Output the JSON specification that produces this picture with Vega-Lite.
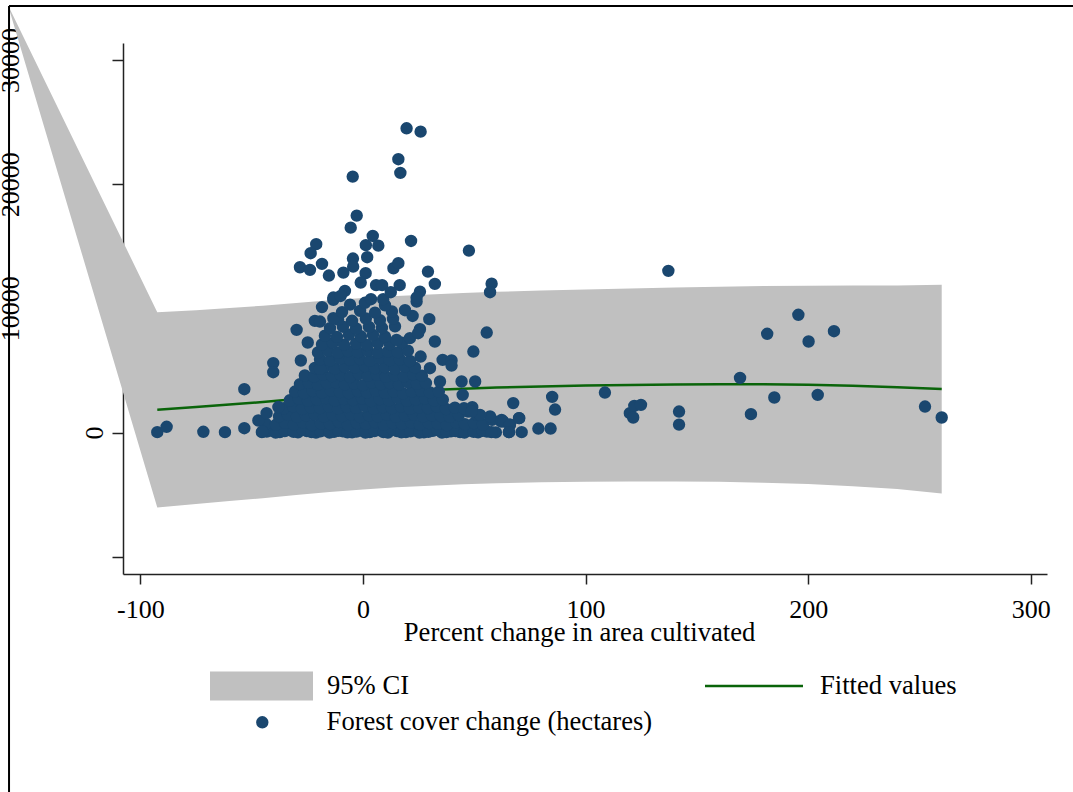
{
  "$schema": "https://vega.github.io/schema/vega-lite/v6.json",
  "width": 924,
  "height": 531,
  "autosize": "none",
  "padding": {"left": 123, "top": 43, "right": 26, "bottom": 218},
  "background": "white",
  "config": {
    "view": {"stroke": null},
    "font": "Liberation Serif",
    "legend": {"title": null, "orient": "none", "padding": 0, "labelFont": "Liberation Serif", "labelFontSize": 26.6, "labelColor": "black", "labelLimit": 600, "symbolOpacity": 1}
  },
  "datasets": {
    "fit": [
      {"x": -159.5, "fit": null, "lo": 34436, "hi": 34436},
      {"x": -92.4, "fit": 1830, "lo": -6040, "hi": 9690},
      {"x": -75, "fit": 2050, "lo": -5750, "hi": 9850},
      {"x": -60, "fit": 2250, "lo": -5520, "hi": 10020},
      {"x": -45, "fit": 2460, "lo": -5290, "hi": 10210},
      {"x": -30, "fit": 2700, "lo": -5030, "hi": 10430},
      {"x": -15, "fit": 2930, "lo": -4790, "hi": 10650},
      {"x": 0, "fit": 3130, "lo": -4580, "hi": 10840},
      {"x": 15, "fit": 3290, "lo": -4410, "hi": 10990},
      {"x": 30, "fit": 3420, "lo": -4280, "hi": 11120},
      {"x": 45, "fit": 3530, "lo": -4170, "hi": 11230},
      {"x": 60, "fit": 3620, "lo": -4090, "hi": 11330},
      {"x": 80, "fit": 3710, "lo": -4010, "hi": 11430},
      {"x": 100, "fit": 3780, "lo": -3960, "hi": 11520},
      {"x": 120, "fit": 3830, "lo": -3940, "hi": 11600},
      {"x": 140, "fit": 3870, "lo": -3940, "hi": 11680},
      {"x": 160, "fit": 3890, "lo": -3970, "hi": 11750},
      {"x": 180, "fit": 3880, "lo": -4040, "hi": 11800},
      {"x": 200, "fit": 3840, "lo": -4150, "hi": 11830},
      {"x": 220, "fit": 3760, "lo": -4320, "hi": 11840},
      {"x": 240, "fit": 3650, "lo": -4550, "hi": 11850},
      {"x": 260, "fit": 3500, "lo": -4900, "hi": 11900}
    ],
    "pts": [
      {"x": -45.4, "y": 30}, {"x": -41.3, "y": 150}, {"x": -37.3, "y": 40}, {"x": -33.2, "y": 210}, {"x": -29.2, "y": 10}, {"x": -25.2, "y": 120}, {"x": -21.1, "y": 0}, {"x": -17.1, "y": 180}, {"x": -13.0, "y": 50}, {"x": -9.0, "y": 90}, {"x": -4.9, "y": 10}, {"x": -0.9, "y": 160}, {"x": 3.1, "y": 30}, {"x": 7.2, "y": 200}, {"x": 11.2, "y": 0}, {"x": 15.3, "y": 110}, {"x": 19.3, "y": 40}, {"x": 23.4, "y": 170}, {"x": 27.4, "y": 20}, {"x": 31.4, "y": 130}, {"x": 35.5, "y": 0}, {"x": 39.5, "y": 90}, {"x": 43.6, "y": 30}, {"x": 47.6, "y": 150}, {"x": 51.7, "y": 20}, {"x": 55.7, "y": 80}, {"x": 59.7, "y": 10}, {"x": 65.6, "y": 30}, {"x": 71.3, "y": 30}, {"x": 78.8, "y": 320}, {"x": 84.3, "y": 320},
      {"x": -43.2, "y": 80}, {"x": -39.2, "y": 0}, {"x": -35.1, "y": 120}, {"x": -31.2, "y": 60}, {"x": -27.2, "y": 230}, {"x": -23.1, "y": 30}, {"x": -19.1, "y": 100}, {"x": -15.0, "y": 0}, {"x": -11.0, "y": 140}, {"x": -7.0, "y": 20}, {"x": -2.9, "y": 70}, {"x": 1.1, "y": 0}, {"x": 5.2, "y": 120}, {"x": 9.2, "y": 40}, {"x": 13.3, "y": 260}, {"x": 17.3, "y": 10}, {"x": 21.4, "y": 90}, {"x": 25.4, "y": 0}, {"x": 29.4, "y": 60}, {"x": 33.5, "y": 200}, {"x": 37.5, "y": 40}, {"x": 41.6, "y": 110}, {"x": 45.6, "y": 0}, {"x": 49.7, "y": 60}, {"x": 53.7, "y": 140}, {"x": 57.7, "y": 30},
      {"x": -43.6, "y": 700}, {"x": -39.1, "y": 620}, {"x": -35.0, "y": 780}, {"x": -31.0, "y": 650}, {"x": -27.0, "y": 820}, {"x": -22.9, "y": 600}, {"x": -18.9, "y": 740}, {"x": -14.8, "y": 680}, {"x": -10.8, "y": 850}, {"x": -6.7, "y": 610}, {"x": -2.7, "y": 760}, {"x": 1.3, "y": 700}, {"x": 5.4, "y": 830}, {"x": 9.4, "y": 620}, {"x": 13.5, "y": 770}, {"x": 17.5, "y": 690}, {"x": 21.6, "y": 810}, {"x": 25.6, "y": 640}, {"x": 29.6, "y": 750}, {"x": 33.7, "y": 700}, {"x": 37.7, "y": 600}, {"x": 41.8, "y": 820}, {"x": 45.8, "y": 680}, {"x": 49.9, "y": 750}, {"x": 53.9, "y": 620}, {"x": 58.0, "y": 1020}, {"x": 62.0, "y": 890}, {"x": 66.0, "y": 620},
      {"x": -37.7, "y": 1300}, {"x": -33.7, "y": 1420}, {"x": -29.6, "y": 1260}, {"x": -25.6, "y": 1380}, {"x": -21.6, "y": 1450}, {"x": -17.5, "y": 1280}, {"x": -13.5, "y": 1400}, {"x": -9.4, "y": 1330}, {"x": -5.4, "y": 1470}, {"x": -1.3, "y": 1250}, {"x": 2.7, "y": 1390}, {"x": 6.7, "y": 1310}, {"x": 10.8, "y": 1440}, {"x": 14.8, "y": 1270}, {"x": 18.9, "y": 1360}, {"x": 22.9, "y": 1420}, {"x": 27.0, "y": 1290}, {"x": 31.0, "y": 1380}, {"x": 35.0, "y": 1330}, {"x": 39.1, "y": 1260}, {"x": 43.1, "y": 1410}, {"x": 47.2, "y": 1690}, {"x": 51.2, "y": 1420}, {"x": 57.1, "y": 1300}, {"x": 70.1, "y": 1160}, {"x": -47.0, "y": 970}, {"x": -43.3, "y": 1560},
      {"x": -35.5, "y": 1950}, {"x": -31.4, "y": 2080}, {"x": -27.4, "y": 1900}, {"x": -23.4, "y": 2030}, {"x": -19.3, "y": 1980}, {"x": -15.3, "y": 2100}, {"x": -11.2, "y": 1920}, {"x": -7.2, "y": 2060}, {"x": -3.1, "y": 1990}, {"x": 0.9, "y": 2120}, {"x": 4.9, "y": 1930}, {"x": 9.0, "y": 2040}, {"x": 13.0, "y": 1970}, {"x": 17.1, "y": 2090}, {"x": 21.1, "y": 1910}, {"x": 25.2, "y": 2020}, {"x": 29.2, "y": 1960}, {"x": 33.2, "y": 2080}, {"x": 37.3, "y": 1900}, {"x": 41.3, "y": 2000}, {"x": 45.4, "y": 1950}, {"x": 49.1, "y": 2040}, {"x": -38.0, "y": 2050},
      {"x": -32.8, "y": 2600}, {"x": -28.8, "y": 2720}, {"x": -24.7, "y": 2550}, {"x": -20.7, "y": 2680}, {"x": -16.6, "y": 2780}, {"x": -12.6, "y": 2580}, {"x": -8.5, "y": 2700}, {"x": -4.5, "y": 2620}, {"x": -0.4, "y": 2760}, {"x": 3.6, "y": 2540}, {"x": 7.6, "y": 2690}, {"x": 11.7, "y": 2600}, {"x": 15.7, "y": 2770}, {"x": 19.8, "y": 2560}, {"x": 23.8, "y": 2660}, {"x": 27.9, "y": 2740}, {"x": 31.9, "y": 2590}, {"x": 35.9, "y": 2650}, {"x": 67.5, "y": 2370},
      {"x": -30.5, "y": 3300}, {"x": -26.5, "y": 3180}, {"x": -22.5, "y": 3350}, {"x": -18.4, "y": 3220}, {"x": -14.4, "y": 3400}, {"x": -10.3, "y": 3260}, {"x": -6.3, "y": 3170}, {"x": -2.2, "y": 3330}, {"x": 1.8, "y": 3240}, {"x": 5.8, "y": 3380}, {"x": 9.9, "y": 3200}, {"x": 13.9, "y": 3310}, {"x": 18.0, "y": 3160}, {"x": 22.0, "y": 3290}, {"x": 26.1, "y": 3360}, {"x": 30.1, "y": 3230}, {"x": 34.1, "y": 3300}, {"x": 44.8, "y": 3030}, {"x": 85.0, "y": 2870}, {"x": 86.3, "y": 1850},
      {"x": -28.3, "y": 3900}, {"x": -24.3, "y": 4010}, {"x": -20.2, "y": 3850}, {"x": -16.2, "y": 3980}, {"x": -12.1, "y": 4050}, {"x": -8.1, "y": 3870}, {"x": -4.0, "y": 3960}, {"x": 0.0, "y": 3820}, {"x": 4.0, "y": 4030}, {"x": 8.1, "y": 3900}, {"x": 12.1, "y": 3990}, {"x": 16.2, "y": 3860}, {"x": 20.2, "y": 4040}, {"x": 24.3, "y": 3920}, {"x": 28.3, "y": 3980}, {"x": 34.6, "y": 4110}, {"x": 44.3, "y": 4110}, {"x": 50.4, "y": 4110},
      {"x": -26.1, "y": 4600}, {"x": -22.0, "y": 4500}, {"x": -18.0, "y": 4680}, {"x": -13.9, "y": 4540}, {"x": -9.9, "y": 4620}, {"x": -5.8, "y": 4470}, {"x": -1.8, "y": 4700}, {"x": 2.2, "y": 4560}, {"x": 6.3, "y": 4650}, {"x": 10.3, "y": 4490}, {"x": 14.4, "y": 4610}, {"x": 18.4, "y": 4530}, {"x": 22.5, "y": 4690}, {"x": 26.5, "y": 4580},
      {"x": -21.6, "y": 5200}, {"x": -17.1, "y": 5300}, {"x": -12.6, "y": 5150}, {"x": -8.1, "y": 5280}, {"x": -3.6, "y": 5220}, {"x": 0.9, "y": 5350}, {"x": 5.4, "y": 5180}, {"x": 9.9, "y": 5260}, {"x": 14.4, "y": 5120}, {"x": 18.9, "y": 5300}, {"x": 23.4, "y": 5230}, {"x": 30.1, "y": 5180}, {"x": 35.8, "y": 5850}, {"x": 39.8, "y": 5800}, {"x": 39.8, "y": 5390}, {"x": 25.9, "y": 6120}, {"x": -19.3, "y": 5130}, {"x": -27.9, "y": 5800}, {"x": -40.3, "y": 5590}, {"x": -40.3, "y": 4860},
      {"x": -19.3, "y": 5900}, {"x": -14.8, "y": 5800}, {"x": -10.3, "y": 5960}, {"x": -5.8, "y": 5850}, {"x": -1.3, "y": 5920}, {"x": 3.1, "y": 5780}, {"x": 7.6, "y": 5990}, {"x": 12.1, "y": 5830}, {"x": 16.6, "y": 5900}, {"x": 21.1, "y": 5760},
      {"x": -20.2, "y": 6450}, {"x": -15.7, "y": 6580}, {"x": -11.2, "y": 6420}, {"x": -6.7, "y": 6550}, {"x": -2.2, "y": 6480}, {"x": 2.2, "y": 6600}, {"x": 6.7, "y": 6430}, {"x": 11.2, "y": 6520}, {"x": 15.7, "y": 6470}, {"x": 20.2, "y": 6590}, {"x": 49.6, "y": 6520},
      {"x": -18.4, "y": 7100}, {"x": -13.5, "y": 7220}, {"x": -8.5, "y": 7080}, {"x": -3.1, "y": 7180}, {"x": 1.8, "y": 7050}, {"x": 6.7, "y": 7200}, {"x": 12.1, "y": 7120}, {"x": 17.5, "y": 7240}, {"x": -24.8, "y": 7250}, {"x": 15.1, "y": 7460}, {"x": 21.1, "y": 7600}, {"x": 32.3, "y": 7330},
      {"x": -17.1, "y": 7800}, {"x": -11.7, "y": 7700}, {"x": -6.3, "y": 7880}, {"x": -0.9, "y": 7750}, {"x": 4.5, "y": 7850}, {"x": 9.9, "y": 7720}, {"x": 25.6, "y": 8320}, {"x": 24.8, "y": 8000}, {"x": 55.6, "y": 8050}, {"x": -29.8, "y": 8270},
      {"x": -14.8, "y": 8400}, {"x": -9.0, "y": 8520}, {"x": -3.1, "y": 8380}, {"x": 2.7, "y": 8500}, {"x": 8.5, "y": 8420}, {"x": 14.4, "y": 8550},
      {"x": -21.6, "y": 8990}, {"x": -19.3, "y": 8940}, {"x": -11.2, "y": 9100}, {"x": -4.9, "y": 9000}, {"x": 1.3, "y": 9180}, {"x": 7.6, "y": 9050}, {"x": 13.5, "y": 9150}, {"x": 22.3, "y": 9390}, {"x": 29.8, "y": 9130}, {"x": -13.3, "y": 9210},
      {"x": -9.4, "y": 9700}, {"x": -1.3, "y": 9800}, {"x": 5.4, "y": 9650}, {"x": 13.0, "y": 9750}, {"x": 18.9, "y": 9850},
      {"x": -18.4, "y": 10100}, {"x": -13.3, "y": 10680}, {"x": -5.8, "y": 10300}, {"x": 0.9, "y": 10450}, {"x": 9.9, "y": 10250}, {"x": 24.1, "y": 10550},
      {"x": 19.6, "y": 24500}, {"x": 25.9, "y": 24230}, {"x": 15.9, "y": 22010}, {"x": 16.8, "y": 20910}, {"x": -4.6, "y": 20610}, {"x": -2.8, "y": 17470}, {"x": -5.5, "y": 16500}, {"x": 4.4, "y": 15830}, {"x": 1.3, "y": 15090}, {"x": 6.9, "y": 15050}, {"x": 21.6, "y": 15430}, {"x": -21.0, "y": 15170}, {"x": -23.5, "y": 14440}, {"x": 1.9, "y": 14120}, {"x": -18.4, "y": 13580}, {"x": -4.5, "y": 14010}, {"x": -28.3, "y": 13310}, {"x": -23.8, "y": 13100}, {"x": -15.3, "y": 12640}, {"x": -8.8, "y": 12880}, {"x": -4.4, "y": 13360}, {"x": 1.2, "y": 12830}, {"x": -1.0, "y": 12080}, {"x": 5.9, "y": 11870}, {"x": 8.6, "y": 11870}, {"x": 13.7, "y": 13230}, {"x": 15.9, "y": 13640}, {"x": 16.5, "y": 11870}, {"x": 29.2, "y": 12960}, {"x": 32.3, "y": 11970}, {"x": 25.6, "y": 11350}, {"x": 24.1, "y": 10870}, {"x": 47.6, "y": 14650}, {"x": 57.8, "y": 11990}, {"x": 57.1, "y": 11300}, {"x": -13.3, "y": 10870}, {"x": 3.6, "y": 10740}, {"x": 9.1, "y": 10740}, {"x": 137.2, "y": 13020}, {"x": -8.1, "y": 11400}, {"x": 12.5, "y": 11300}, {"x": -10.0, "y": 11000},
      {"x": -92.4, "y": 30}, {"x": -88.2, "y": 460}, {"x": -71.7, "y": 60}, {"x": -62.0, "y": 30}, {"x": -53.3, "y": 350}, {"x": -53.3, "y": 3490}, {"x": -45.2, "y": 80},
      {"x": 108.7, "y": 3220}, {"x": 119.9, "y": 1560}, {"x": 121.9, "y": 2150}, {"x": 124.9, "y": 2230}, {"x": 121.4, "y": 1210}, {"x": 142.0, "y": 1690}, {"x": 142.0, "y": 640}, {"x": 169.4, "y": 4400}, {"x": 181.6, "y": 7950}, {"x": 195.6, "y": 9480}, {"x": 200.2, "y": 7330}, {"x": 211.6, "y": 8160}, {"x": 184.8, "y": 2820}, {"x": 204.3, "y": 3030}, {"x": 174.3, "y": 1480}, {"x": 252.5, "y": 2090}, {"x": 260.0, "y": 1210},
      {"x": 62.3, "y": 1020}, {"x": 52.6, "y": 1420}, {"x": 48.8, "y": 1690}, {"x": 63.0, "y": 890}, {"x": 66.0, "y": 620}, {"x": 65.6, "y": 30}, {"x": 70.2, "y": 1160}
    ]
  },
  "encoding": {
    "x": {
      "type": "quantitative",
      "scale": {"domain": [-107.8, 307.3], "nice": false, "zero": false},
      "axis": {
        "values": [-100, 0, 100, 200, 300],
        "labelExpr": "datum.value < 0 ? '-' + abs(datum.value) : '' + datum.value",
        "title": "Percent change in area cultivated",
        "titleFont": "Liberation Serif", "titleFontSize": 26.6, "titleFontWeight": "normal", "titleColor": "black",
        "titleX": 456, "titleY": 66, "titleAlign": "center", "titleBaseline": "alphabetic",
        "labelFont": "Liberation Serif", "labelFontSize": 26, "labelColor": "black", "labelPadding": 12,
        "labelFlush": false, "labelOverlap": false,
        "tickSize": 10, "tickWidth": 1.5, "tickColor": "#222", "domainColor": "#222", "domainWidth": 1.5,
        "grid": false
      }
    },
    "y": {
      "type": "quantitative",
      "scale": {"domain": [-11393, 31370], "nice": false, "zero": false},
      "axis": {
        "values": [-10000, 0, 10000, 20000, 30000],
        "labelExpr": "datum.value < 0 ? '' : '' + datum.value",
        "title": null,
        "labelAngle": 270, "labelAlign": "center", "labelBaseline": "alphabetic",
        "labelPadding": {"condition": {"test": "datum.value === 0", "value": 10}, "value": 94},
        "labelFont": "Liberation Serif", "labelFontSize": 26, "labelColor": "black",
        "labelFlush": false, "labelOverlap": false,
        "tickSize": 11, "tickWidth": 1.5, "tickColor": "#222", "domainColor": "#222", "domainWidth": 1.5,
        "grid": false
      }
    }
  },
  "layer": [
    {
      "data": {"name": "fit"},
      "mark": {"type": "area", "opacity": 1, "clip": false},
      "encoding": {
        "x": {"field": "x", "type": "quantitative"},
        "y": {"field": "hi", "type": "quantitative"},
        "y2": {"field": "lo"},
        "fill": {
          "datum": "95% CI", "type": "nominal",
          "scale": {"domain": ["95% CI"], "range": ["#c0c0c0"]},
          "legend": {
            "legendX": 87, "legendY": 591.5,
            "symbolType": "M-1,-0.28H1V0.28H-1Z",
            "symbolSize": 10609,
            "symbolStrokeWidth": 0,
            "symbolOffset": 0,
            "labelOffset": 14
          }
        }
      }
    },
    {
      "data": {"name": "fit"},
      "mark": {"type": "line", "strokeWidth": 2.5, "opacity": 1},
      "encoding": {
        "x": {"field": "x", "type": "quantitative"},
        "y": {"field": "fit", "type": "quantitative"},
        "stroke": {
          "datum": "Fitted values", "type": "nominal",
          "scale": {"domain": ["Fitted values"], "range": ["#0a640a"]},
          "legend": {
            "legendX": 580.5, "legendY": 592.5,
            "symbolType": "M-1,0H1",
            "symbolSize": 9604,
            "symbolStrokeWidth": 2.5,
            "symbolOffset": 0,
            "labelOffset": 15.5
          }
        }
      }
    },
    {
      "data": {"name": "pts"},
      "mark": {"type": "circle", "size": 154, "opacity": 1},
      "encoding": {
        "x": {"field": "x", "type": "quantitative"},
        "y": {"field": "y", "type": "quantitative"},
        "color": {
          "datum": "Forest cover change (hectares)", "type": "nominal",
          "scale": {"domain": ["Forest cover change (hectares)"], "range": ["#1a476f"]},
          "legend": {
            "legendX": 126, "legendY": 666,
            "symbolType": "circle",
            "symbolSize": 154,
            "symbolStrokeWidth": 0,
            "symbolOffset": 0,
            "labelOffset": 51
          }
        }
      }
    },
    {
      "data": {"values": [{}]},
      "mark": {"type": "rule", "color": "black", "strokeWidth": 2, "clip": false},
      "encoding": {"x": {"datum": -159}, "y": {"datum": 34349}, "y2": {"datum": -30000}}
    },
    {
      "data": {"values": [{}]},
      "mark": {"type": "rule", "color": "black", "strokeWidth": 2, "clip": false},
      "encoding": {"x": {"datum": -159}, "x2": {"datum": 330}, "y": {"datum": 34349}}
    }
  ]
}
